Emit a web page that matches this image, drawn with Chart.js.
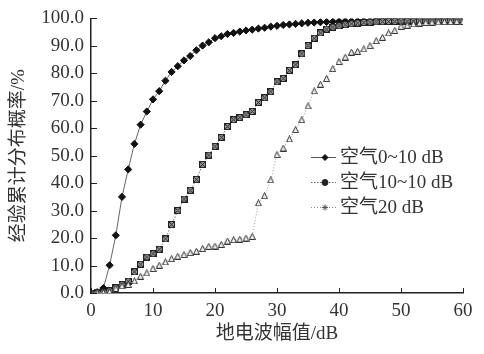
<!DOCTYPE html>
<html lang="zh-CN">
<head>
    <meta charset="UTF-8">
    <title>经验累计分布概率</title>
    <script src="https://cdn.jsdelivr.net/npm/chart.js@4.4.1/dist/chart.umd.min.js"></script>
    <style>
        html, body { margin: 0; padding: 0; background: #fff; }
        #wrap { width: 484px; height: 354px; }
    </style>
</head>
<body>
    <div id="wrap"><canvas id="cdfChart" width="484" height="354"></canvas></div>
    <script>
        // 地电波幅值 (dB)
        const amplitudes = [0, 1, 2, 3, 4, 5, 6, 7, 8, 9, 10, 11, 12, 13, 14, 15, 16, 17, 18, 19, 20,
            21, 22, 23, 24, 25, 26, 27, 28, 29, 30, 31, 32, 33, 34, 35, 36, 37, 38, 39, 40,
            41, 42, 43, 44, 45, 46, 47, 48, 49, 50, 51, 52, 53, 54, 55, 56, 57, 58, 59, 60];

        // 空气0~10 dB
        const air0to10 = [0, 0.3, 1.8, 10.1, 21, 35, 45, 54.3, 61.3, 66.1, 70.5, 73.5, 77.3, 80.5, 82.6, 84.7, 86.3, 88.4, 90.1, 91.3, 92.8,
            93.5, 94.3, 94.7, 95.2, 95.6, 95.9, 96.3, 96.6, 97.0, 97.3, 97.6, 97.8, 98.0, 98.2, 98.4, 98.5, 98.6, 98.7, 98.8, 98.9,
            99.0, 99.0, 99.0, 99.1, 99.1, 99.1, 99.1, 99.2, 99.2, 99.2, 99.2, 99.2, 99.2, 99.3, 99.3, 99.3, 99.3, 99.3, 99.3, 99.3];

        // 空气10~10 dB
        const air10to10 = [0, 0.1, 0.3, 0.8, 2.0, 3.1, 4.3, 7.7, 10.5, 13.1, 14.3, 15.9, 19.7, 24.9, 30.0, 34.2, 37.4, 41.4, 46.8, 50.2, 53.4,
            56.7, 60.6, 63.1, 63.9, 64.9, 66.1, 69.4, 71.1, 73.3, 76.9, 78.1, 81.1, 83.1, 87.1, 90.1, 92.8, 94.7, 96.1, 96.8, 97.3,
            97.7, 98.0, 98.3, 98.5, 98.6, 98.7, 98.8, 98.9, 98.9, 99.0, 99.0, 99.0, 99.1, 99.1, 99.1, 99.1, 99.2, 99.2, 99.2, 99.2];

        // 空气20 dB
        const air20 = [0, 0, 0.2, 0.5, 1.7, 2.6, 3.1, 4.4, 6.1, 7.3, 8.9, 10.1, 11.3, 12.5, 13.4, 14.0, 14.7, 15.2, 16.2, 17.0, 17.1,
            17.7, 18.9, 19.4, 19.6, 20.0, 20.6, 32.8, 35.4, 41.2, 50.4, 52.8, 56.1, 59.5, 63.1, 68.1, 73.6, 76.0, 78.1, 81.7, 84.3,
            85.9, 87.7, 88.0, 88.9, 90.1, 91.9, 93.1, 94.7, 95.6, 97.1, 97.5, 98.0, 98.3, 98.5, 98.6, 98.7, 98.8, 98.8, 98.9, 98.9];

        const seriesNames = ['空气0~10 dB', '空气10~10 dB', '空气20 dB'];
        const yTickValues = [0, 10, 20, 30, 40, 50, 60, 70, 80, 90, 100];
        const xTickValues = [0, 10, 20, 30, 40, 50, 60];

        const serif = '"Liberation Serif", "Noto Sans CJK SC", serif';

        // 自定义点样式: 带叉方块
        function makeSquareX(size) {
            const c = document.createElement('canvas');
            c.width = size; c.height = size;
            const g = c.getContext('2d');
            g.fillStyle = '#999';
            g.fillRect(0.5, 0.5, size - 1, size - 1);
            g.strokeStyle = '#222';
            g.lineWidth = 1;
            g.strokeRect(0.5, 0.5, size - 1, size - 1);
            g.beginPath();
            g.moveTo(1, 1); g.lineTo(size - 1, size - 1);
            g.moveTo(size - 1, 1); g.lineTo(1, size - 1);
            g.stroke();
            return c;
        }

        // 自定义点样式: 空心三角
        function makeTriangle(size) {
            const c = document.createElement('canvas');
            c.width = size; c.height = size;
            const g = c.getContext('2d');
            g.fillStyle = '#eee';
            g.strokeStyle = '#333';
            g.lineWidth = 1;
            g.beginPath();
            g.moveTo(size / 2, 0.5);
            g.lineTo(size - 0.5, size - 0.5);
            g.lineTo(0.5, size - 0.5);
            g.closePath();
            g.fill();
            g.stroke();
            return c;
        }

        const toPoints = arr => arr.map((v, i) => ({ x: amplitudes[i], y: v }));

        // 内向刻度
        const innerTicks = {
            id: 'innerTicks',
            afterDraw(chart) {
                const { ctx, scales: { x, y } } = chart;
                ctx.save();
                ctx.strokeStyle = '#222';
                ctx.lineWidth = 1;
                xTickValues.forEach(v => {
                    const px = Math.round(x.getPixelForValue(v)) + 0.5;
                    ctx.beginPath();
                    ctx.moveTo(px, y.bottom);
                    ctx.lineTo(px, y.bottom - 5);
                    ctx.stroke();
                });
                yTickValues.forEach(v => {
                    const py = Math.round(y.getPixelForValue(v)) + 0.5;
                    ctx.beginPath();
                    ctx.moveTo(x.left, py);
                    ctx.lineTo(x.left + 6, py);
                    ctx.stroke();
                });
                ctx.restore();
            }
        };

        // 图例
        const innerLegend = {
            id: 'innerLegend',
            afterDraw(chart) {
                const ctx = chart.ctx;
                const rows = [
                    { y: 157, dash: [], color: '#555', style: 'rectRot', r: 3, fill: '#111' },
                    { y: 182, dash: [1.5, 1.5], color: '#666', style: 'circle', r: 3, fill: '#222' },
                    { y: 207, dash: [1, 2], color: '#888', style: 'star', r: 3, fill: '#555' }
                ];
                ctx.save();
                rows.forEach((row, i) => {
                    ctx.strokeStyle = row.color;
                    ctx.lineWidth = 1;
                    ctx.setLineDash(row.dash);
                    ctx.beginPath();
                    ctx.moveTo(311, row.y + 0.5);
                    ctx.lineTo(336, row.y + 0.5);
                    ctx.stroke();
                    ctx.setLineDash([]);
                    ctx.fillStyle = row.fill;
                    ctx.strokeStyle = row.fill;
                    Chart.helpers.drawPoint(ctx, { pointStyle: row.style, radius: row.r, borderWidth: 1 }, 325, row.y + 0.5);
                    ctx.fillStyle = '#333';
                    ctx.font = '19px ' + serif;
                    ctx.textBaseline = 'middle';
                    ctx.textAlign = 'left';
                    ctx.fillText(seriesNames[i], 340, row.y + 1);
                });
                ctx.restore();
            }
        };

        function renderChart() {
            const ctx = document.getElementById('cdfChart').getContext('2d');
            new Chart(ctx, {
                type: 'line',
                data: {
                    datasets: [{
                        label: seriesNames[2],
                        data: toPoints(air20),
                        borderColor: '#999',
                        borderWidth: 1,
                        borderDash: [1, 2],
                        pointStyle: makeTriangle(7),
                        pointRadius: 4,
                        tension: 0
                    }, {
                        label: seriesNames[1],
                        data: toPoints(air10to10),
                        borderColor: '#777',
                        borderWidth: 1,
                        borderDash: [1.5, 1.5],
                        pointStyle: makeSquareX(7),
                        pointRadius: 4,
                        tension: 0
                    }, {
                        label: seriesNames[0],
                        data: toPoints(air0to10),
                        borderColor: '#666',
                        borderWidth: 1,
                        pointStyle: 'rectRot',
                        pointRadius: 3.6,
                        pointBackgroundColor: '#111',
                        pointBorderColor: '#111',
                        pointBorderWidth: 1,
                        tension: 0
                    }]
                },
                options: {
                    responsive: false,
                    animation: false,
                    layout: { padding: { left: 0, right: 21, top: 16, bottom: 0 } },
                    plugins: {
                        legend: { display: false },
                        tooltip: { enabled: false }
                    },
                    scales: {
                        x: {
                            type: 'linear',
                            min: 0,
                            max: 60,
                            afterFit: s => { s.height = 61; },
                            afterBuildTicks: s => { s.ticks = xTickValues.map(v => ({ value: v })); },
                            grid: { drawOnChartArea: false, drawTicks: false },
                            border: { display: true, color: '#222', width: 1.5 },
                            ticks: {
                                color: '#333',
                                padding: 7,
                                maxRotation: 0,
                                font: { family: serif, size: 19 }
                            },
                            title: {
                                display: true,
                                text: '地电波幅值/dB',
                                color: '#333',
                                padding: { top: 0, bottom: 9 },
                                font: { family: serif, size: 19 }
                            }
                        },
                        y: {
                            min: 0,
                            max: 100,
                            afterFit: s => { s.width = 91; },
                            afterBuildTicks: s => { s.ticks = yTickValues.map(v => ({ value: v })); },
                            grid: { drawOnChartArea: false, drawTicks: false },
                            border: { display: true, color: '#222', width: 1.5 },
                            ticks: {
                                color: '#333',
                                padding: 7,
                                font: { family: serif, size: 19 },
                                callback: v => v.toFixed(1)
                            },
                            title: {
                                display: true,
                                text: '经验累计分布概率/%',
                                color: '#333',
                                padding: { top: 8, bottom: 0 },
                                font: { family: serif, size: 19 }
                            }
                        }
                    }
                },
                plugins: [innerTicks, innerLegend]
            });
        }

        document.addEventListener('DOMContentLoaded', renderChart);
    </script>
</body>
</html>
